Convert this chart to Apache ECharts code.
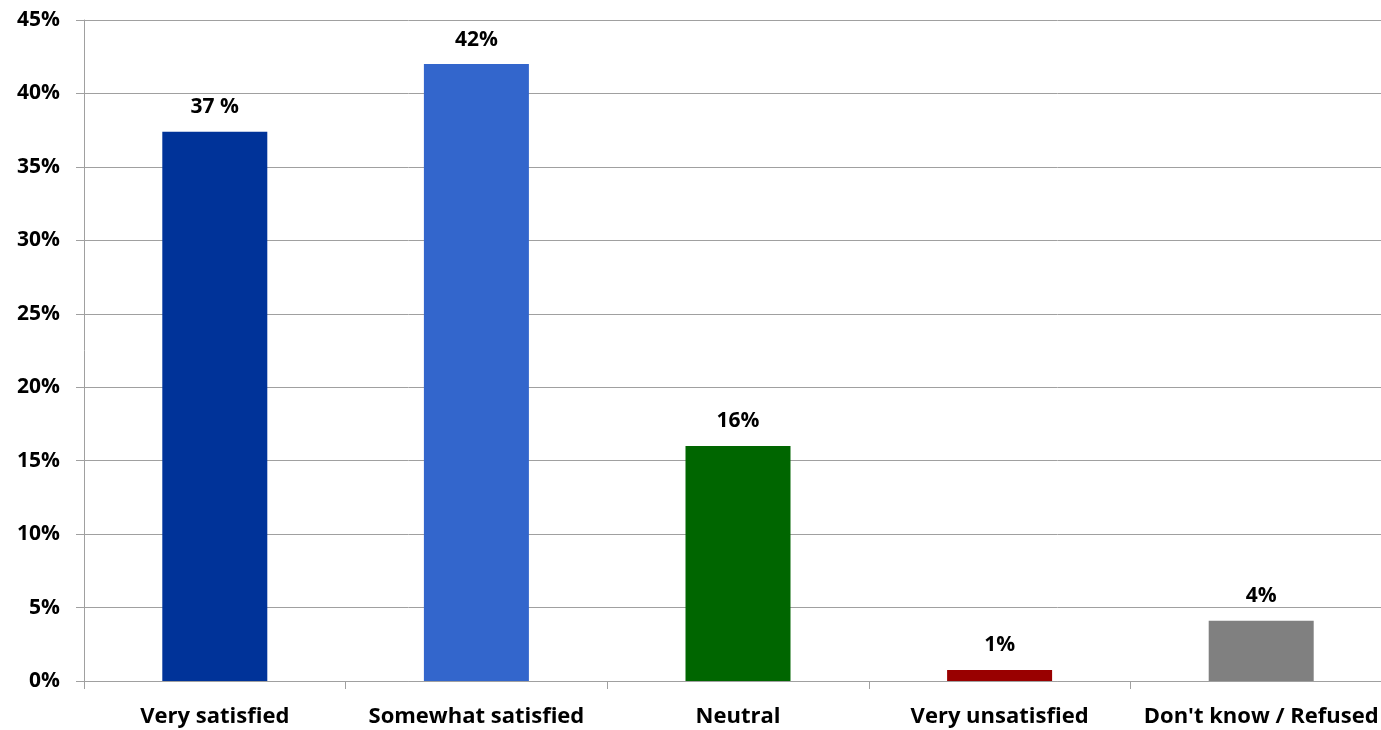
<!DOCTYPE html>
<html><head><meta charset="utf-8">
<script src="https://cdn.jsdelivr.net/npm/echarts@6/dist/echarts.min.js"></script>
<style>html,body{margin:0;padding:0;background:#fff}#c{width:1381px;height:730px}</style>
</head><body><div id="c"></div>
<script>
const categories = ["Very satisfied", "Somewhat satisfied", "Neutral", "Very unsatisfied", "Don't know / Refused"];
const values = [37.4, 42.0, 16.0, 0.75, 4.1];
const valueLabels = ["37 %", "42%", "16%", "1%", "4%"];
const barColors = ["#003399", "#3366CC", "#006600", "#990000", "#808080"];
const yTicks = [0, 5, 10, 15, 20, 25, 30, 35, 40, 45];

const font = "'Open Sans', sans-serif";
const chart = echarts.init(document.getElementById('c'));
chart.setOption({
  animation: false,
  grid: {left: 84, top: 20, right: -11, bottom: 49, containLabel: false, outerBoundsMode: 'none'},
  xAxis: {
    type: 'category', data: categories,
    axisLine: {lineStyle: {color: '#a0a0a0', width: 1}},
    axisTick: {show: true, length: 8, lineStyle: {color: '#a0a0a0'}},
    axisLabel: {color: '#000', fontWeight: 'bold', fontSize: 22, fontFamily: font, margin: 25, interval: 0}
  },
  yAxis: {
    type: 'value', min: 0, max: 45, interval: 5,
    axisLine: {show: true, lineStyle: {color: '#a0a0a0', width: 1}},
    axisTick: {show: true, length: 8, lineStyle: {color: '#a0a0a0'}},
    splitLine: {lineStyle: {color: '#a0a0a0', width: 1}},
    axisLabel: {color: '#000', fontWeight: 'bold', fontSize: 21, fontFamily: font, margin: 24,
      formatter: v => yTicks.includes(v) ? v + '%' : ''}
  },
  series: [{
    type: 'bar', barWidth: 105,
    data: values.map((v, i) => ({value: v, itemStyle: {color: barColors[i]}})),
    label: {show: true, position: 'top', distance: 14, color: '#000', fontWeight: 'bold', fontSize: 21, fontFamily: font,
      formatter: p => valueLabels[p.dataIndex]}
  }]
});
</script></body></html>
